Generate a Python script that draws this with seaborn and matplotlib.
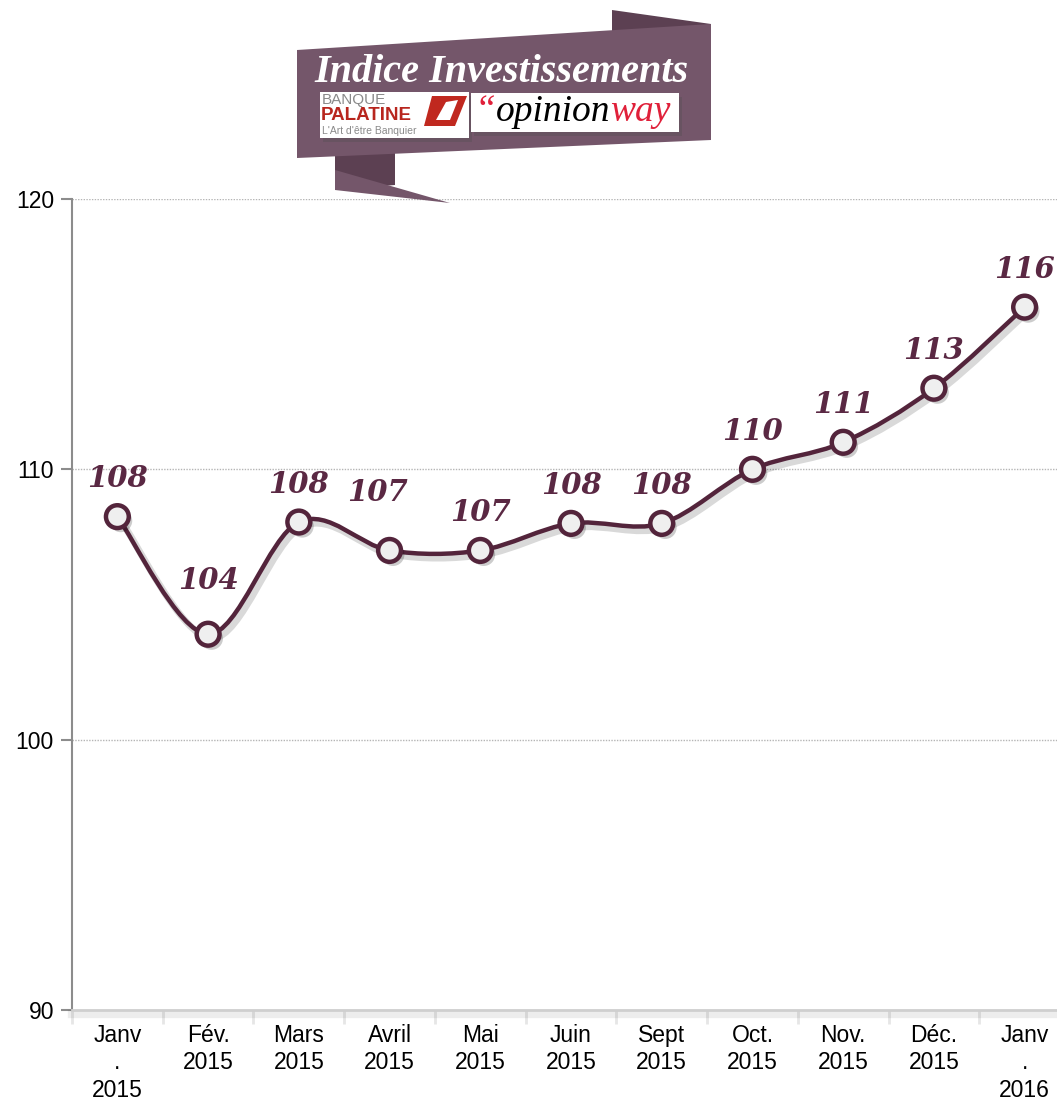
import numpy as np
import pandas as pd
import matplotlib
matplotlib.use("Agg")
import matplotlib.pyplot as plt
import matplotlib.patheffects as pe
from matplotlib.path import Path
from matplotlib.patches import PathPatch, Polygon, Rectangle
from matplotlib.text import Annotation
import seaborn as sns

# data
months = ["Janv\n.\n2015", "Fév.\n2015", "Mars\n2015", "Avril\n2015", "Mai\n2015",
          "Juin\n2015", "Sept\n2015", "Oct.\n2015", "Nov.\n2015", "Déc.\n2015", "Janv\n.\n2016"]
index_values = [108.25, 103.9, 108.05, 107.0, 107.0, 108.0, 108.0, 110.0, 111.0, 113.0, 116.0]
value_labels = ["108", "104", "108", "107", "107", "108", "108", "110", "111", "113", "116"]
y_ticks = [90, 100, 110, 120]

LINE = "#53243b"
LABEL = "#5a2843"
BAND = "#74566a"
BAND_DARK = "#5c4052"

W, H = 1057, 1105
sns.set_theme(style="white")
plt.rcParams["font.family"] = ["Liberation Sans", "DejaVu Sans"]

fig = plt.figure(figsize=(W / 100, H / 100), dpi=100)
ax = fig.add_axes([72 / W, 95 / H, 998 / W, 811 / H])

df = pd.DataFrame({"x": np.arange(len(months)), "y": index_values})


def smooth_path(xs, ys):
    """Catmull-Rom style bezier through the points (like Excel's smoothed line)."""
    pts = np.column_stack([xs, ys]).astype(float)
    n = len(pts)
    verts = [pts[0]]
    codes = [Path.MOVETO]
    for i in range(n - 1):
        p0 = pts[max(i - 1, 0)]
        p1 = pts[i]
        p2 = pts[i + 1]
        p3 = pts[min(i + 2, n - 1)]
        c1 = p1 + (p2 - p0) / 6.0
        c2 = p2 - (p3 - p1) / 6.0
        verts += [c1, c2, p2]
        codes += [Path.CURVE4] * 3
    return Path(verts, codes)


shadow = [pe.SimpleLineShadow(offset=(2.5, -3), shadow_color="#000000", alpha=0.15, linewidth=5),
          pe.Normal()]
curve = PathPatch(smooth_path(df["x"], df["y"]), facecolor="none", edgecolor=LINE,
                  lw=3.2, zorder=3, capstyle="round")
curve.set_path_effects(shadow)
ax.add_patch(curve)

sns.scatterplot(data=df, x="x", y="y", ax=ax, s=270, color="#efefef", edgecolor=LINE,
                linewidth=3.2, zorder=4, legend=False)
for coll in ax.collections:
    coll.set_path_effects([pe.SimplePatchShadow(offset=(2.5, -3), shadow_rgbFace="#000000", alpha=0.2),
                           pe.Normal()])

# value labels (a couple sit higher to clear the curve)
label_dy = {1: 54, 3: 58}
label_dx = {3: -12}
for i, (v, lab) in enumerate(zip(index_values, value_labels)):
    ax.annotate(lab, (i, v), xytext=(label_dx.get(i, 0), label_dy.get(i, 38)),
                textcoords="offset pixels", ha="center", va="center",
                fontsize=21, fontweight="bold", fontstyle="italic",
                family="DejaVu Serif", color=LABEL, zorder=5)

ax.set_xlim(-0.5, len(months) - 0.5)
ax.set_ylim(90, 120)
ax.set_yticks(y_ticks)
ax.set_yticklabels([str(t) for t in y_ticks], fontsize=16.5, color="black")
ax.set_xticks(df["x"])
ax.set_xticklabels(months, fontsize=16.5, color="black", linespacing=1.25)
ax.set_xticks(np.arange(len(months) + 1) - 0.5, minor=True)
ax.set_xlabel("")
ax.set_ylabel("")

for t in y_ticks[1:]:
    ax.axhline(t, color="#b5b5b5", lw=1, ls=(0, (1, 1)), zorder=1)

for side in ["top", "right"]:
    ax.spines[side].set_visible(False)
ax.spines["left"].set_color("#8c8c8c")
ax.spines["left"].set_linewidth(1.5)
ax.spines["bottom"].set_color("#cfcfcf")
ax.spines["bottom"].set_linewidth(2)
ax.spines["bottom"].set_path_effects([pe.SimpleLineShadow(offset=(0, -3), alpha=0.08, linewidth=6),
                                      pe.Normal()])
ax.tick_params(axis="y", which="major", direction="out", length=8, width=1.5, color="#8c8c8c",
               pad=5, left=True)
ax.tick_params(axis="x", which="major", length=0, pad=10, bottom=False)
ax.tick_params(axis="x", which="minor", direction="out", length=10, width=2, color="#e6e6e6",
               bottom=True)
ax.grid(False)


# banner at the top (figure pixel coordinates)
def px(x, y):
    return (x / W, 1 - y / H)


def poly(points, color, z):
    fig.patches.append(Polygon([px(*p) for p in points], closed=True, facecolor=color,
                               edgecolor="none", transform=fig.transFigure, zorder=z))


poly([(612, 10), (711, 24), (711, 40), (612, 40)], BAND_DARK, 1)
poly([(335, 150), (395, 150), (395, 185), (335, 190)], BAND_DARK, 1)
poly([(335, 170), (450, 203), (335, 190)], BAND, 1)
poly([(297, 50), (711, 24), (711, 140), (297, 158)], BAND, 2)

fig.text(*px(501, 72), "Indice Investissements", ha="center", va="center", color="white",
         fontsize=29, fontweight="bold", fontstyle="italic", family="Liberation Serif", zorder=5)

for (x0, y0, x1, y1) in [(320, 92, 469, 138), (471, 93, 679, 132)]:
    fig.patches.append(Rectangle(px(x0, y1), (x1 - x0) / W, (y1 - y0) / H, facecolor="white",
                                 edgecolor="none", transform=fig.transFigure, zorder=3))
    fig.patches[-1].set_path_effects([pe.SimplePatchShadow(offset=(2, -3), alpha=0.3), pe.Normal()])

fig.text(*px(322, 100), "BANQUE", ha="left", va="center", color="#8a8a8a", fontsize=11, zorder=5)
fig.text(*px(321, 116), "PALATINE", ha="left", va="center", color="#b8261e", fontsize=13.5,
         fontweight="bold", zorder=5)
fig.text(*px(322, 131.5), "L'Art d'être Banquier", ha="left", va="center", color="#8a8a8a",
         fontsize=7.5, zorder=5)
poly([(432, 96), (467, 96), (455, 126), (424, 126)], "#c0281f", 4)
poly([(436, 120), (446, 102), (458, 100), (450, 120)], "white", 5)

ow_style = dict(fontsize=27, fontstyle="italic", family="Liberation Serif", zorder=6)
t_q = fig.text(*px(475, 112), "\u201c", ha="left", va="center", color="#e0203a", **ow_style)
prev = t_q
for word, col in [("opinion", "black"), ("way", "#e0203a")]:
    ann = Annotation(word, xy=(1, 0), xycoords=prev, xytext=(0, 0), textcoords="offset points",
                     ha="left", va="bottom", color=col, annotation_clip=False, **ow_style)
    fig.add_artist(ann)
    prev = ann

fig.savefig("out.png", dpi=100)
